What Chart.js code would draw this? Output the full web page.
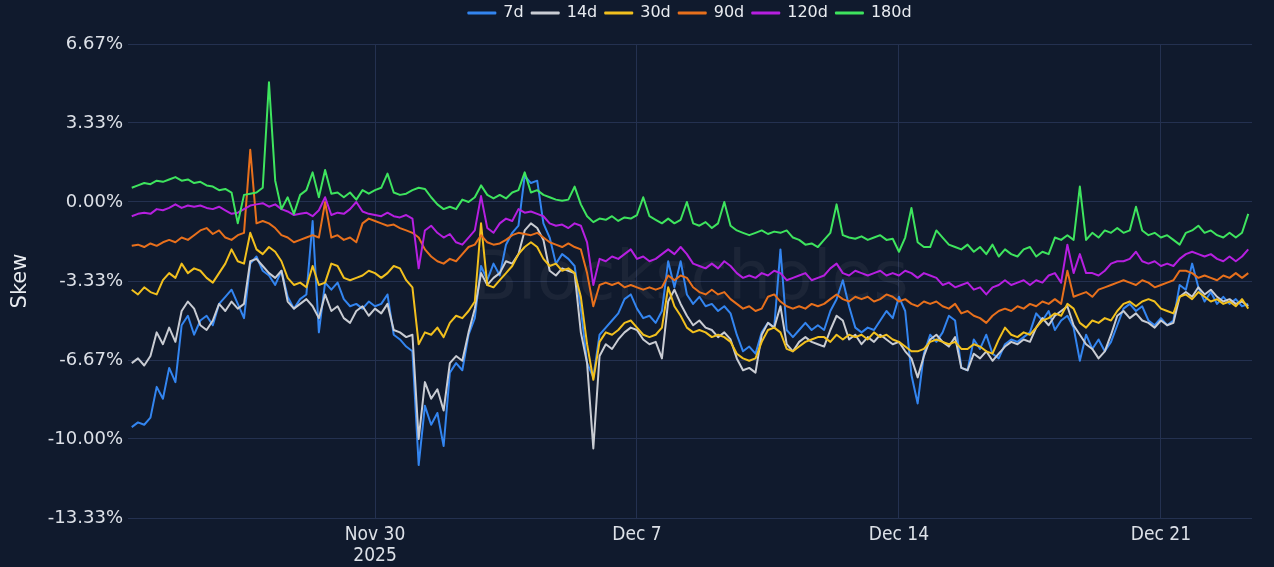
<!DOCTYPE html>
<html>
<head>
<meta charset="utf-8">
<script src="https://cdn.jsdelivr.net/npm/chart.js@4.4.1/dist/chart.umd.min.js"></script>
<style>
  html, body { margin: 0; padding: 0; background: #101a2d; }
  #wrap { width: 1274px; height: 567px; }
</style>
</head>
<body>
<div id="wrap"><canvas id="skewChart"></canvas></div>
<script>
// hours relative to Nov 30 2025 00:00, one reading every 4h
const startHour = -156;
const stepHours = 4;

const seriesNames = ["7d", "14d", "30d", "90d", "120d", "180d"];
const seriesColors = ["#3385f0", "#c9ccd3", "#f2c01e", "#e8701c", "#b61fe0", "#3ee45e"];

const xTickHours = [0, 168, 336, 504];
const xTickLabels = [["Nov 30", "2025"], "Dec 7", "Dec 14", "Dec 21"];
const yTickValues = [-40 / 3, -10, -20 / 3, -10 / 3, 0, 10 / 3, 20 / 3];

// skew in %
const skew7d = [
  -9.5, -9.3, -9.4, -9.1, -7.8, -8.3, -7.0, -7.6, -5.2, -4.8,
  -5.6, -5.0, -4.8, -5.2, -4.3, -4.0, -3.7, -4.3, -4.9, -2.6,
  -2.3, -2.9, -3.1, -3.5, -2.9, -4.0, -4.5, -4.1, -3.9, -0.8,
  -5.5, -3.4, -3.7, -3.4, -4.1, -4.4, -4.3, -4.5, -4.2, -4.4,
  -4.3, -3.9, -5.6, -5.8, -6.1, -6.3, -11.1, -8.6, -9.4, -8.9,
  -10.3, -7.2, -6.8, -7.1, -5.6, -4.9, -2.7, -3.3, -2.6, -3.1,
  -1.8, -1.3, -1.0, 1.1, 0.8, 0.9, -0.9, -1.5, -2.6, -2.2,
  -2.4, -2.7, -4.5, -6.8, -7.4, -5.6, -5.3, -5.0, -4.7, -4.1,
  -3.9, -4.5, -4.9, -4.8, -5.1, -4.6, -2.5, -3.6, -2.5, -3.9,
  -4.3, -4.0, -4.4, -4.3, -4.6, -4.4, -4.7, -5.6, -6.3, -6.1,
  -6.4, -5.5, -5.1, -5.3, -2.0, -5.4, -5.7, -5.4, -5.1, -5.4,
  -5.2, -5.4, -4.6, -4.1, -3.3, -4.4, -5.3, -5.5, -5.3, -5.4,
  -5.0, -4.6, -4.9, -4.0, -4.6, -7.3, -8.5, -6.4, -5.6, -5.9,
  -5.5, -4.8, -5.0, -7.0, -7.1, -5.8, -6.2, -5.6, -6.4, -6.6,
  -6.0, -5.8, -5.9, -5.7, -5.5, -4.7, -5.0, -4.6, -5.4, -5.0,
  -4.8, -5.3, -6.7, -5.6, -6.2, -5.8, -6.3, -5.9, -5.2, -4.5,
  -4.3, -4.6, -4.4, -5.0, -5.2, -4.9, -5.2, -5.0, -3.5, -3.7,
  -2.6, -3.6, -4.2, -3.8, -4.3, -4.0, -4.3, -4.1, -4.4, -4.3
];
const skew14d = [
  -6.8, -6.6, -6.9, -6.5, -5.5, -6.0, -5.3, -5.9, -4.6, -4.2,
  -4.5, -5.2, -5.4, -5.0, -4.3, -4.6, -4.2, -4.5, -4.3, -2.5,
  -2.4, -2.7, -3.0, -3.2, -2.9, -4.2, -4.5, -4.3, -4.1, -4.4,
  -4.9, -3.9, -4.6, -4.4, -4.9, -5.1, -4.6, -4.4, -4.8, -4.5,
  -4.7, -4.3, -5.4, -5.5, -5.7, -5.6, -10.0, -7.6, -8.3, -7.9,
  -8.8, -6.8, -6.5, -6.7, -5.5, -4.5, -3.0, -3.5, -3.2, -3.0,
  -2.5, -2.6, -2.2, -1.2, -0.9, -1.1, -1.6, -2.9, -3.1, -2.8,
  -2.9, -3.0, -5.5, -6.8, -10.4, -6.5, -6.0, -6.2, -5.8, -5.5,
  -5.3, -5.4, -5.8, -6.0, -5.9, -6.6, -4.2, -3.7, -4.3, -4.8,
  -5.2, -5.0, -5.3, -5.4, -5.7, -5.5, -5.8, -6.6, -7.1, -7.0,
  -7.2, -5.6, -5.1, -5.3, -4.4, -6.0, -6.3, -5.9, -5.7, -5.9,
  -6.0, -6.1, -5.4, -4.8, -5.0, -5.8, -5.6, -6.0, -5.7, -5.9,
  -5.6, -5.8, -6.0, -5.9, -6.3, -6.6, -7.4, -6.5, -5.8, -5.6,
  -5.9, -6.1, -5.7, -7.0, -7.1, -6.4, -6.6, -6.3, -6.7, -6.4,
  -6.1, -5.9, -6.0, -5.8, -5.9, -5.3, -4.9, -5.2, -4.8, -4.6,
  -4.4, -5.2, -5.6, -6.0, -6.2, -6.6, -6.3, -5.6, -4.8, -4.6,
  -4.9, -4.7, -5.0, -5.1, -5.3, -5.0, -5.2, -5.1, -4.0, -3.8,
  -4.0, -3.6, -3.9, -3.7, -4.0, -4.2, -4.1, -4.3, -4.2, -4.4
];
const skew30d = [
  -3.7, -3.9, -3.6, -3.8, -3.9, -3.3, -3.0, -3.2, -2.6, -3.0,
  -2.8, -2.9, -3.2, -3.4, -3.0, -2.6, -2.0, -2.5, -2.6, -1.3,
  -2.0, -2.2, -1.9, -2.1, -2.5, -3.2, -3.5, -3.4, -3.6, -2.7,
  -3.5, -3.4, -2.6, -2.7, -3.2, -3.3, -3.2, -3.1, -2.9, -3.0,
  -3.2, -3.0, -2.7, -2.8, -3.3, -3.6, -6.0, -5.5, -5.6, -5.3,
  -5.7, -5.1, -4.8, -4.9, -4.6, -4.2, -0.9, -3.5, -3.6, -3.3,
  -3.0, -2.7, -2.2, -1.9, -1.7, -1.9, -2.4, -2.7, -2.6, -2.9,
  -2.8, -3.0, -4.0, -6.0, -7.5, -5.9, -5.5, -5.6, -5.4, -5.1,
  -5.0, -5.3, -5.6, -5.7, -5.6, -5.3, -3.6, -4.4, -4.8, -5.3,
  -5.5, -5.4, -5.5, -5.7, -5.6, -5.7, -5.9, -6.4, -6.6, -6.7,
  -6.6, -5.9, -5.4, -5.3, -5.5, -6.2, -6.3, -6.1, -5.9, -5.8,
  -5.7, -5.7, -5.9, -5.6, -5.8, -5.6, -5.7, -5.6, -5.8, -5.5,
  -5.7, -5.6, -5.8, -5.9, -6.1, -6.3, -6.3, -6.2, -5.9, -5.8,
  -5.9, -6.0, -5.9, -6.2, -6.2, -6.0, -6.1, -6.3, -6.4, -5.8,
  -5.3, -5.6, -5.7, -5.5, -5.6, -5.3, -5.0, -4.9, -4.7, -4.8,
  -4.3, -4.5, -5.1, -5.3, -5.0, -5.1, -4.9, -5.0, -4.6, -4.3,
  -4.2, -4.4, -4.2, -4.1, -4.2, -4.5, -4.6, -4.7, -4.0, -3.9,
  -4.1, -3.8, -4.0, -4.2, -4.1, -4.3, -4.2, -4.4, -4.1, -4.5
];
const skew90d = [
  -1.85, -1.8, -1.9, -1.75, -1.85, -1.7, -1.6, -1.7, -1.5, -1.6,
  -1.4, -1.2, -1.1, -1.35, -1.2, -1.5, -1.6, -1.4, -1.3, 2.2,
  -0.9, -0.8, -0.9, -1.1, -1.4, -1.5, -1.7, -1.6, -1.5, -1.4,
  -1.5, 0.0, -1.5, -1.4, -1.6, -1.5, -1.7, -0.9, -0.7, -0.8,
  -0.9, -1.0, -0.95, -1.1, -1.2, -1.3, -1.5, -2.0, -2.3, -2.5,
  -2.6, -2.4, -2.5, -2.2, -1.9, -1.8, -1.4, -1.7, -1.8, -1.75,
  -1.6, -1.4, -1.3, -1.35, -1.4, -1.3, -1.5, -1.7, -1.8, -1.9,
  -1.75, -1.9, -2.0, -3.0, -4.4, -3.5, -3.4, -3.5, -3.4, -3.6,
  -3.5, -3.6, -3.7, -3.6, -3.7, -3.6, -3.1, -3.3, -3.1, -3.2,
  -3.6, -3.8, -3.9, -3.7, -3.9, -3.8, -4.1, -4.3, -4.5, -4.4,
  -4.6, -4.5, -4.0, -3.9, -4.2, -4.4, -4.5, -4.4, -4.5, -4.3,
  -4.4, -4.3, -4.1, -3.9, -4.1, -4.2, -4.0, -4.1, -4.0, -4.2,
  -4.1, -3.9, -4.0, -4.2, -4.1, -4.3, -4.4, -4.2, -4.3, -4.2,
  -4.4, -4.5, -4.3, -4.7, -4.6, -4.8, -4.9, -5.1, -4.8, -4.6,
  -4.5, -4.6, -4.4, -4.5, -4.3, -4.4, -4.2, -4.3, -4.1, -4.3,
  -2.9, -4.0, -3.9, -3.8, -4.0, -3.7, -3.6, -3.5, -3.4, -3.3,
  -3.4, -3.5, -3.3, -3.4, -3.6, -3.5, -3.4, -3.3, -2.9, -2.9,
  -3.0, -3.2, -3.1, -3.2, -3.3, -3.1, -3.2, -3.0, -3.2, -3.0
];
const skew120d = [
  -0.6, -0.5, -0.45, -0.5, -0.3, -0.35, -0.25, -0.1, -0.25, -0.15,
  -0.2, -0.15, -0.25, -0.3, -0.2, -0.35, -0.5, -0.45, -0.3, -0.15,
  -0.1, -0.05, -0.2, -0.1, -0.3, -0.4, -0.55, -0.5, -0.45, -0.6,
  -0.35, 0.2, -0.55, -0.45, -0.5, -0.3, 0.0, -0.4, -0.5, -0.55,
  -0.6, -0.45, -0.6, -0.65, -0.55, -0.7, -2.8, -1.2, -1.0, -1.3,
  -1.5, -1.35, -1.7, -1.8, -1.5, -1.2, 0.25, -1.1, -1.3, -0.9,
  -0.7, -0.8, -0.3, -0.45, -0.4, -0.5, -0.6, -0.9, -1.0, -0.95,
  -1.1, -0.9, -1.0, -1.7, -3.5, -2.4, -2.5, -2.3, -2.4, -2.2,
  -2.0, -2.4, -2.3, -2.5, -2.4, -2.2, -2.0, -2.2, -1.9, -2.2,
  -2.6, -2.7, -2.8, -2.6, -2.8, -2.5, -2.7, -3.0, -3.2, -3.1,
  -3.2, -3.0, -3.1, -2.9, -3.0, -3.3, -3.2, -3.1, -3.0, -3.3,
  -3.2, -3.1, -2.8, -2.6, -3.0, -3.1, -2.9, -3.0, -3.1, -3.0,
  -2.9, -3.1, -3.0, -3.1, -2.9, -3.0, -3.2, -3.0, -3.1, -3.2,
  -3.5, -3.4, -3.6, -3.5, -3.4, -3.7, -3.6, -3.9, -3.6, -3.5,
  -3.3, -3.5, -3.4, -3.3, -3.5, -3.3, -3.4, -3.1, -3.0, -3.4,
  -1.8, -3.0, -2.2, -3.0, -3.0, -3.1, -2.9, -2.6, -2.5, -2.5,
  -2.4, -2.1, -2.5, -2.6, -2.5, -2.7, -2.6, -2.7, -2.4, -2.2,
  -2.1, -2.2, -2.3, -2.2, -2.4, -2.5, -2.3, -2.5, -2.3, -2.0
];
const skew180d = [
  0.6, 0.7, 0.8, 0.75, 0.9, 0.85, 0.95, 1.05, 0.9, 0.95,
  0.8, 0.85, 0.7, 0.65, 0.5, 0.55, 0.4, -0.9, 0.3, 0.35,
  0.4, 0.6, 5.05, 0.9, -0.3, 0.2, -0.5, 0.3, 0.5, 1.25,
  0.2, 1.35, 0.35, 0.4, 0.2, 0.4, 0.1, 0.5, 0.35, 0.5,
  0.6, 1.2, 0.4, 0.3, 0.35, 0.5, 0.6, 0.55, 0.2, -0.1,
  -0.3, -0.2, -0.3, 0.1, 0.0, 0.2, 0.7, 0.3, 0.15, 0.3,
  0.15, 0.4, 0.5, 1.25, 0.4, 0.5, 0.3, 0.2, 0.1, 0.05,
  0.1, 0.65, -0.1, -0.6, -0.85, -0.7, -0.75, -0.6, -0.8, -0.65,
  -0.7, -0.55, 0.2, -0.6, -0.75, -0.9, -0.7, -0.9, -0.75, 0.0,
  -0.9, -1.0, -0.85, -1.1, -0.9, 0.0, -1.0, -1.2, -1.3, -1.4,
  -1.3, -1.2, -1.35, -1.25, -1.3, -1.2, -1.5, -1.6, -1.8, -1.75,
  -1.9, -1.6, -1.3, -0.1, -1.4, -1.5, -1.55, -1.45, -1.6, -1.5,
  -1.4, -1.6, -1.55, -2.1, -1.5, -0.25, -1.7, -1.9, -1.9, -1.2,
  -1.5, -1.8, -1.9, -2.0, -1.8, -2.1, -1.9, -2.2, -1.8, -2.3,
  -2.0, -2.2, -2.3, -2.0, -1.9, -2.3, -2.1, -2.2, -1.5, -1.6,
  -1.4, -1.6, 0.65, -1.6, -1.3, -1.5, -1.2, -1.3, -1.1, -1.3,
  -1.2, -0.2, -1.2, -1.4, -1.3, -1.5, -1.4, -1.6, -1.8, -1.3,
  -1.2, -1.0, -1.3, -1.2, -1.4, -1.5, -1.3, -1.5, -1.3, -0.5
];

const allSeries = [skew7d, skew14d, skew30d, skew90d, skew120d, skew180d];
const hours = skew7d.map((_, i) => startHour + i * stepHours);

const gridColor = "#243150";
const textColor = "#dde1e8";

// faint brand text behind the lines
const watermark = {
  id: "watermark",
  beforeDatasetsDraw(chart) {
    const { ctx, chartArea } = chart;
    ctx.save();
    ctx.font = '68px "DejaVu Sans"';
    ctx.fillStyle = "rgba(255,255,255,0.05)";
    ctx.textAlign = "center";
    ctx.textBaseline = "middle";
    ctx.fillText("Blockscholes", (chartArea.left + chartArea.right) / 2, (chartArea.top + chartArea.bottom) / 2);
    ctx.restore();
  }
};

// extra room between legend and plot
const legendGap = {
  id: "legendGap",
  beforeInit(chart) {
    const fit = chart.legend.fit;
    chart.legend.fit = function () {
      fit.call(this);
      this.height += 13;
    };
  }
};

const datasets = seriesNames.map((name, i) => ({
  label: name,
  data: hours.map((h, j) => ({ x: h, y: allSeries[i][j] })),
  borderColor: seriesColors[i],
  backgroundColor: seriesColors[i],
  borderWidth: 2,
  borderJoinStyle: "round",
  pointRadius: 0,
  tension: 0,
  order: seriesNames.length - i
}));

new Chart(document.getElementById("skewChart"), {
  type: "line",
  data: { datasets },
  options: {
    responsive: true,
    maintainAspectRatio: false,
    animation: false,
    layout: { padding: { top: -3, right: 22, left: 0, bottom: 0 } },
    plugins: {
      tooltip: { enabled: false },
      legend: {
        position: "top",
        fullSize: false,
        labels: {
          color: "#e8ebf0",
          font: { family: "DejaVu Sans", size: 16 },
          boxWidth: 27,
          boxHeight: 1,
          padding: 8,
          sort: (a, b) => a.datasetIndex - b.datasetIndex
        }
      }
    },
    scales: {
      x: {
        type: "linear",
        min: -158.4,
        max: 562.4,
        afterBuildTicks: (s) => { s.ticks = xTickHours.map((v) => ({ value: v })); },
        afterFit: (s) => { s.height = 49; },
        grid: { color: gridColor, drawTicks: false },
        border: { display: false },
        ticks: {
          autoSkip: false,
          maxRotation: 0,
          padding: 7,
          color: textColor,
          font: { family: "'DejaVu Sans Condensed', 'Liberation Sans Narrow', 'DejaVu Sans'", size: 19, lineHeight: 1.1 },
          callback: (v, i) => xTickLabels[i]
        }
      },
      y: {
        min: -40 / 3,
        max: 20 / 3,
        afterBuildTicks: (s) => { s.ticks = yTickValues.map((v) => ({ value: v })); },
        afterFit: (s) => { s.width = 128; },
        grid: { color: gridColor, drawTicks: false },
        border: { display: false },
        title: {
          display: true,
          text: "Skew",
          color: "#e8ebf0",
          font: { family: "DejaVu Sans", size: 21 },
          padding: { top: 8, bottom: 0 }
        },
        ticks: {
          padding: 5,
          color: textColor,
          font: { family: "DejaVu Sans", size: 18 },
          callback: (v) => v.toFixed(2) + "%"
        }
      }
    }
  },
  plugins: [watermark, legendGap]
});
</script>
</body>
</html>
